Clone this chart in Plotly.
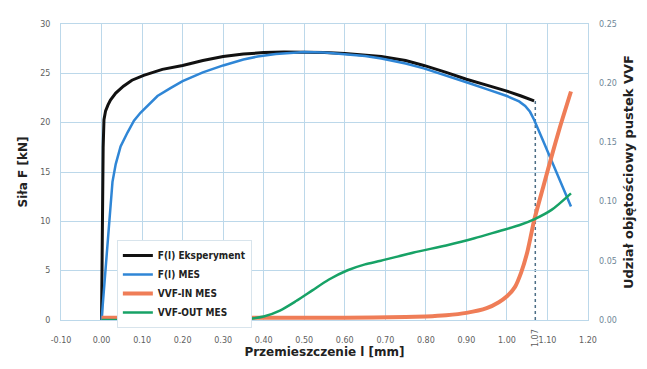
import plotly.graph_objects as go

# --- data ---
exp_x = [0, 0.001, 0.002, 0.004, 0.006, 0.010, 0.016, 0.022, 0.035, 0.054, 0.075, 0.104, 0.15, 0.20, 0.25, 0.30,
         0.35, 0.40, 0.45, 0.50, 0.55, 0.60, 0.65, 0.69, 0.75, 0.795, 0.85, 0.90, 0.95, 1.00, 1.035, 1.067]
exp_f = [0, 6, 12, 17.5, 20.3, 21.2, 21.8, 22.3, 23.0, 23.7, 24.3, 24.8, 25.4, 25.8, 26.3, 26.7,
         26.95, 27.1, 27.15, 27.15, 27.1, 27.0, 26.85, 26.7, 26.3, 25.8, 25.1, 24.4, 23.8, 23.2, 22.7, 22.2]

mes_x = [0, 0.01, 0.02, 0.027, 0.035, 0.047, 0.064, 0.08, 0.096, 0.12, 0.138, 0.17, 0.20, 0.25, 0.30, 0.35,
         0.385, 0.43, 0.50, 0.55, 0.60, 0.65, 0.69, 0.75, 0.795, 0.85, 0.90, 0.95, 1.00, 1.03, 1.045, 1.057,
         1.067, 1.09, 1.116, 1.14, 1.158]
mes_f = [0, 5.2, 10.4, 14.0, 15.8, 17.6, 19.0, 20.2, 21.0, 22.0, 22.7, 23.5, 24.2, 25.1, 25.8, 26.4,
         26.7, 26.95, 27.15, 27.1, 26.95, 26.75, 26.5, 26.0, 25.5, 24.8, 24.1, 23.4, 22.7, 22.15, 21.7, 21.1,
         20.3, 18.1, 15.6, 13.2, 11.5]

vin_x = [0, 0.30, 0.60, 0.75, 0.80, 0.85, 0.90, 0.95, 0.98, 1.00, 1.02, 1.035, 1.05, 1.059, 1.067,
         1.09, 1.11, 1.13, 1.158]
vin_v = [0.002, 0.002, 0.002, 0.0025, 0.003, 0.004, 0.006, 0.010, 0.015, 0.020, 0.028, 0.040, 0.057, 0.071, 0.084,
         0.113, 0.138, 0.162, 0.193]

vout_x = [0, 0.30, 0.35, 0.40, 0.44, 0.48, 0.52, 0.56, 0.607, 0.65, 0.689, 0.77, 0.85, 0.92, 0.98, 1.03,
          1.067, 1.11, 1.158]
vout_v = [0, 0, 0.0006, 0.003, 0.008, 0.016, 0.025, 0.034, 0.042, 0.047, 0.050, 0.057, 0.063, 0.069, 0.075, 0.080,
          0.085, 0.093, 0.107]

fail_x = 1.07
fail_f = 22.2
fail_label = "1.07"

x_ticks = [-0.10, 0.0, 0.10, 0.20, 0.30, 0.40, 0.50, 0.60, 0.70, 0.80, 0.90, 1.00, 1.10, 1.20]
x_labels = ["-0.10", "0.00", "0.10", "0.20", "0.30", "0.40", "0.50", "0.60", "0.70", "0.80", "0.90",
            "1.00", "1.10", "1.20"]
yl_ticks = [0, 5, 10, 15, 20, 25, 30]
yr_ticks = [0, 0.05, 0.10, 0.15, 0.20, 0.25]
yr_labels = ["0.00", "0.05", "0.10", "0.15", "0.20", "0.25"]

FONT = "DejaVu Sans, sans-serif"
FONT_C = "DejaVu Sans Condensed, DejaVu Sans, sans-serif"
GRID = "#bcd8ea"
TICK_C = "#5e5e5e"

fig = go.Figure()
fig.add_trace(go.Scatter(x=exp_x, y=exp_f, mode="lines", name="F(l) Eksperyment",
                         line=dict(color="#111111", width=3)))
fig.add_trace(go.Scatter(x=mes_x, y=mes_f, mode="lines", name="F(l) MES",
                         line=dict(color="#2f86d6", width=2.5)))
fig.add_trace(go.Scatter(x=vin_x, y=vin_v, mode="lines", name="VVF-IN MES", yaxis="y2",
                         line=dict(color="#ef7d57", width=4, shape="spline", smoothing=0.6)))
fig.add_trace(go.Scatter(x=vout_x, y=vout_v, mode="lines", name="VVF-OUT MES", yaxis="y2",
                         line=dict(color="#17a266", width=2.5, shape="spline", smoothing=0.8)))

fig.add_shape(type="line", xref="x", yref="y", x0=fail_x, x1=fail_x, y0=0, y1=fail_f,
              line=dict(color="#4d6e86", width=1.5, dash="dot"), layer="below")
fig.add_annotation(x=fail_x, xref="x", y=-0.06, yref="paper", yanchor="middle", xanchor="center",
                   text=fail_label, textangle=-90,
                   showarrow=False, font=dict(family=FONT, size=8, color=TICK_C))

fig.update_layout(
    width=639, height=361,
    margin=dict(l=53, r=59, t=13, b=49),
    paper_bgcolor="white", plot_bgcolor="white",
    font=dict(family=FONT, size=8, color=TICK_C),
    xaxis=dict(range=[-0.10, 1.20], tickvals=x_ticks, ticktext=x_labels, showgrid=True,
               gridcolor=GRID, gridwidth=1, zeroline=False, showline=True, linecolor=GRID, mirror=True,
               ticks="", ticklabelstandoff=12, tickfont=dict(family=FONT, size=8, color=TICK_C),
               title=dict(text="<b>Przemieszczenie l [mm]</b>", standoff=4,
                          font=dict(family=FONT, size=12, color="#222222"))),
    yaxis=dict(range=[0, 30], tickvals=yl_ticks, showgrid=True, gridcolor=GRID, gridwidth=1,
               zeroline=False, showline=True, linecolor=GRID, mirror=True, ticks="",
               ticklabelstandoff=8, tickfont=dict(family=FONT, size=8, color=TICK_C),
               title=dict(text="<b>Siła F [kN]</b>", standoff=10,
                          font=dict(family=FONT, size=12, color="#222222"))),
    yaxis2=dict(range=[0, 0.25], tickvals=yr_ticks, ticktext=yr_labels, overlaying="y", side="right",
                showgrid=False, zeroline=False, ticks="", ticklabelstandoff=10,
                tickfont=dict(family=FONT, size=8, color="#6f8797"),
                title=dict(text="<b>Udział objętościowy pustek VVF</b>", standoff=8,
                           font=dict(family=FONT, size=13, color="#222222"))),
    legend=dict(x=0.106, y=0.27, xanchor="left", yanchor="top", bgcolor="white",
                bordercolor="#d8e4ec", borderwidth=1,
                font=dict(family=FONT_C, size=10, color="#222222", weight="bold"),
                tracegroupgap=0),
    showlegend=True,
)

fig.write_html("out.html")
